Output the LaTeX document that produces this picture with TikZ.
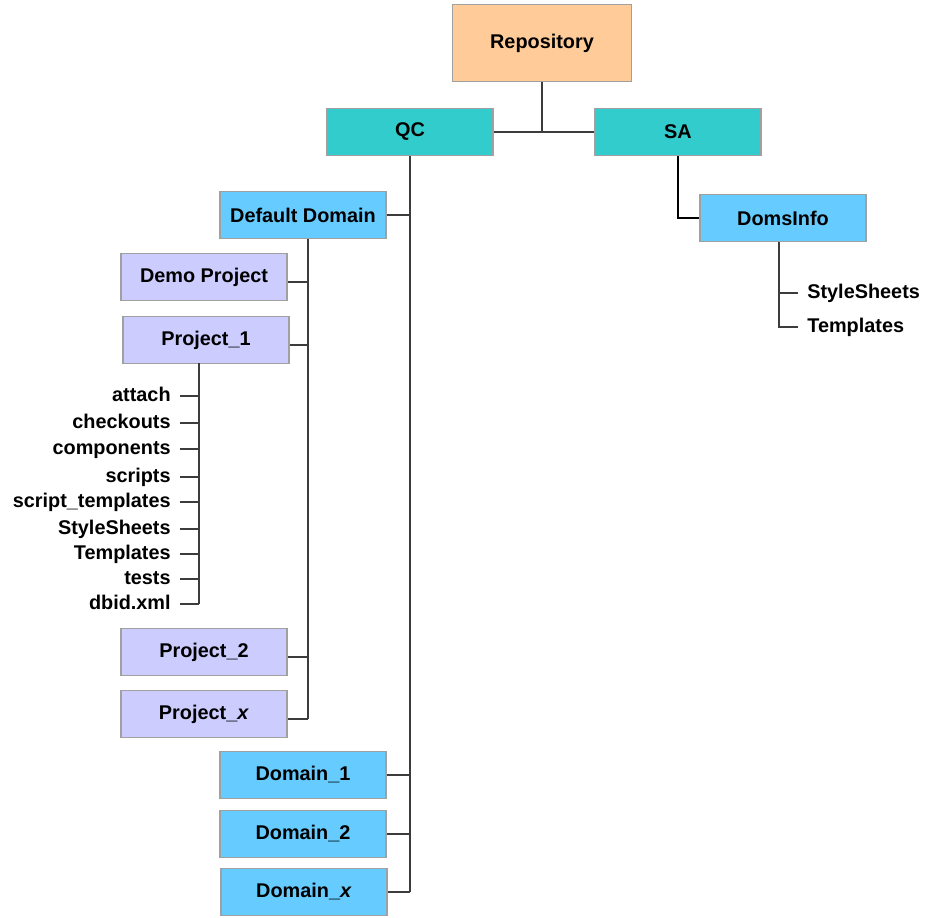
\documentclass[tikz,border=0pt]{standalone}
\usepackage{fontspec}
\setmainfont{Liberation Sans}
\usepackage{xcolor}
\usepackage{tikz}
\usetikzlibrary{positioning}

\definecolor{repofill}{HTML}{FFCC99}
\definecolor{grpfill}{HTML}{33CCCC}
\definecolor{domfill}{HTML}{66CCFF}
\definecolor{projfill}{HTML}{CCCCFF}
\definecolor{boxline}{HTML}{A0A0A0}
\definecolor{linkline}{HTML}{3C3C3C}

\begin{document}
\begin{tikzpicture}[
  x=0.02cm, y=-0.02cm,
  box/.style={draw=boxline, line width=0.9pt, minimum width=3.32cm, minimum height=0.94cm,
    font=\fontsize{11.3}{13}\selectfont\bfseries, inner sep=0pt},
  repobox/.style={box, fill=repofill, minimum width=3.58cm, minimum height=1.54cm},
  grpbox/.style={box, fill=grpfill},
  dombox/.style={box, fill=domfill},
  projbox/.style={box, fill=projfill},
  leaf/.style={font=\fontsize{11.3}{13}\selectfont\bfseries, inner xsep=0.18cm, inner ysep=0pt,
    text height=1.5ex, text depth=0.25ex},
  link/.style={draw=linkline, line width=0.85pt},
  salink/.style={draw=black, line width=1.4pt},
]
  \useasboundingbox (0,0) rectangle (927,917);

  % Top levels
  \node[repobox] (repo) at (542,43) {Repository};
  \node[grpbox] (qc) at (410,132) {QC};
  \node[grpbox] (sa) at (678,132) {SA};

  % QC domains
  \node[dombox] (dd) at (303,215) {Default Domain};
  \node[dombox] (d1) at (303,775) {Domain\_1};
  \node[dombox] (d2) at (303,834) {Domain\_2};
  \node[dombox] (dx) at (304,892) {Domain\_\textit{x}};

  % Projects of the default domain
  \node[projbox] (demo) at (204,277) {Demo Project};
  \node[projbox] (p1) at (206,340) {Project\_1};
  \node[projbox] (p2) at (204,652) {Project\_2};
  \node[projbox] (px) at (204,714) {Project\_\textit{x}};

  % SA side
  \node[dombox] (info) at (783,218) {DomsInfo};

  % Repository -> QC, SA
  \draw[link] (qc.east) -- (sa.west);
  \draw[link] (repo.south) -- (repo.south |- qc.east);

  % QC trunk
  \draw[link] (qc.south) -- (qc.south |- dx.east);
  \foreach \dom in {dd,d1,d2,dx}
    \draw[link] (\dom.east) -- (\dom.east -| qc.south);

  % Default Domain trunk
  \coordinate (ddtrunk) at ([xshift=0.1cm]dd.south);
  \coordinate (pxstub) at ([yshift=-0.1cm]px.east);
  \draw[link] (ddtrunk) -- (ddtrunk |- pxstub);
  \foreach \proj in {demo,p1,p2,px} {
    \coordinate (stub) at ([yshift=-0.1cm]\proj.east);
    \draw[link] (stub) -- (stub -| ddtrunk);
  }

  % Project_1 folders
  \coordinate (p1trunk) at (199,363);
  \foreach \name/\y [count=\i] in {attach/396, checkouts/423, components/449, scripts/477,
      script\_templates/502, StyleSheets/529, Templates/554, tests/579, dbid.xml/604} {
    \node[leaf, anchor=east] (leaf\i) at (180,\y) {\name};
    \draw[link] (leaf\i.east) -- (leaf\i.east -| p1trunk);
  }
  \draw[link] (p1trunk) -- (p1trunk |- leaf9.east);

  % SA -> DomsInfo
  \draw[salink] (sa.south) |- (info.west);

  % DomsInfo folders
  \coordinate (infotrunk) at (779,242);
  \node[leaf, anchor=west] (info1) at (798,293) {StyleSheets};
  \node[leaf, anchor=west] (info2) at (798,327) {Templates};
  \draw[link] (infotrunk) |- (info2.west);
  \draw[link] (info1.west) -- (info1.west -| infotrunk);

\end{tikzpicture}
\end{document}
